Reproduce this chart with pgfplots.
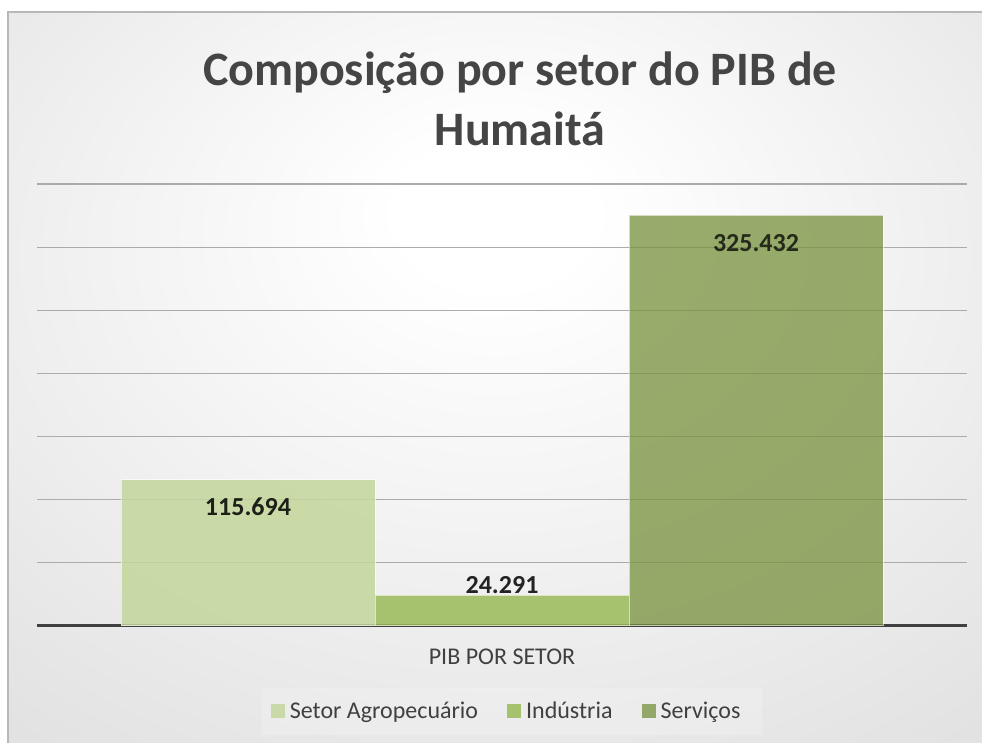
\documentclass[border=0pt]{standalone}
\usepackage{pgfplots}
\pgfplotsset{compat=1.18}
\usepackage{fontspec}
\setmainfont{Carlito}
\definecolor{cLight}{HTML}{C3D69B}
\definecolor{cMid}{HTML}{9BBB59}
\definecolor{cDark}{HTML}{76923C}
\definecolor{txt}{HTML}{404040}
\definecolor{ttl}{HTML}{454545}
\pgfdeclareradialshading{bgshade}{\pgfpoint{0bp}{12bp}}{color(0bp)=(white); color(5bp)=(white); color(80bp)=(black!25)}
\begin{document}
\begin{tikzpicture}[x=1pt,y=1pt]
\useasboundingbox (0,0) rectangle (982,743);
\fill[white] (0,0) rectangle (982,743);
\shade[shading=bgshade] (8,0) rectangle (982,731);
\draw[black!28, line width=1.5pt] (8,-5) -- (8,731) -- (990,731);
\node[align=center, text=ttl, font=\bfseries\fontsize{48}{60}\selectfont] at (520,644) {Composição por setor do PIB de\\Humaitá};
\fill[white, opacity=0.18] (262,8) rectangle (762,55);
\begin{axis}[
  at={(37pt,117pt)}, anchor=south west,
  scale only axis, width=930pt, height=442pt,
  xmin=-1, xmax=1, ymin=0, ymax=350,
  ybar=0pt, bar width=254pt,
  xtick={0}, xticklabels={PIB POR SETOR},
  ytick={50,100,...,350}, yticklabels={},
  ymajorgrids, grid style={draw=black!33, line width=1.2pt},
  axis x line*=bottom, axis y line*=left,
  y axis line style={draw=none},
  x axis line style={draw=black!75, line width=3pt, -},
  major tick length=0pt,
  ticklabel style={font=\fontsize{24}{28}\selectfont, text=txt},
  xticklabel style={yshift=-19pt},
  legend style={at={(0.505,-0.192)}, anchor=center, draw=none, fill=none,
    legend columns=3, font=\fontsize{24}{28}\selectfont, text=txt,
    /tikz/every odd column/.append style={column sep=3pt},
    /tikz/every even column/.append style={column sep=27pt},
    legend cell align=left},
  legend image code/.code={\fill[#1, draw=none] (0pt,-7pt) rectangle (14pt,7pt);},
  nodes near coords={\pgfmathprintnumber[fixed,precision=3,fixed zerofill,assume math mode=true]{\pgfplotspointmeta}},
  nodes near coords style={font=\bfseries\fontsize{26}{30}\selectfont, text=black},
]
\addplot[fill=cLight, fill opacity=0.85, draw=white, draw opacity=0.6, line width=1pt,
  every node near coord/.append style={anchor=north, yshift=-14pt}] coordinates {(0,115.694)};
\addplot[fill=cMid, fill opacity=0.85, draw=white, draw opacity=0.6, line width=1pt,
  every node near coord/.append style={anchor=south, yshift=-2pt}] coordinates {(0,24.291)};
\addplot[fill=cDark, fill opacity=0.75, draw=white, draw opacity=0.6, line width=1pt,
  every node near coord/.append style={anchor=north, yshift=-16pt}] coordinates {(0,325.432)};
\legend{Setor Agropecuário, Indústria, Serviços}
\end{axis}
\end{tikzpicture}
\end{document}
